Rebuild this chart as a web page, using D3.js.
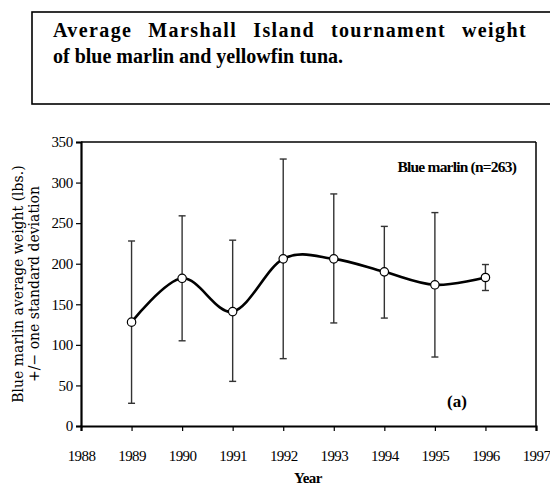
<!DOCTYPE html>
<html>
<head>
<meta charset="utf-8">
<script src="https://cdn.jsdelivr.net/npm/d3@7"></script>
<style>
  body { margin: 0; background: #fff; }
  svg { display: block; }
</style>
</head>
<body>
<svg id="fig" width="550" height="488"></svg>
<script>
// values
var years   = [1989, 1990, 1991, 1992, 1993, 1994, 1995, 1996];
var means   = [128, 182, 141, 206, 206, 190, 174, 183];
var upper   = [228, 259, 229, 329, 286, 246, 263, 199];
var lower   = [ 28, 105,  55,  83, 127, 133,  85, 167];
var yTicks  = [0, 50, 100, 150, 200, 250, 300, 350];
var xTicks  = [1988, 1989, 1990, 1991, 1992, 1993, 1994, 1995, 1996, 1997];
var titleLines = ["Average Marshall Island tournament weight", "of blue marlin and yellowfin tuna."];

var svg = d3.select("#fig");
var fontSerif = "Liberation Serif";

function txt(sel, x, y, size, bold, anchor){
    return sel.append("text")
        .attr("x", x).attr("y", y)
        .style("font-family", fontSerif)
        .style("font-size", size + "px")
        .style("font-weight", bold ? "bold" : "normal")
        .attr("text-anchor", anchor || "start")
        .attr("fill", "#000");
}

// ---- title box
svg.append("rect")
   .attr("x", 32).attr("y", 12).attr("width", 540).attr("height", 92)
   .attr("fill", "none").attr("stroke", "#000").attr("stroke-width", 1.6);

// first line is justified: a bit of letter spacing, the rest goes to the gaps
var t1 = txt(svg, 53, 37, 20, true).style("letter-spacing", "1.4px").text(titleLines[0]);
var nat = t1.node().getComputedTextLength();
var gaps = titleLines[0].split(" ").length - 1;
t1.style("word-spacing", Math.max(0, (527 - 53 - nat) / gaps) + "px");

txt(svg, 53, 63, 20, true).text(titleLines[1]);

// ---- chart
var x = d3.scaleLinear().domain([1988, 1997]).range([81, 536]);
var y = d3.scaleLinear().domain([0, 350]).range([426, 142]);

var g = svg.append("g");

// frame (top & right thinner)
g.append("line").attr("x1", x(1988)).attr("x2", x(1997)).attr("y1", y(350)).attr("y2", y(350))
 .attr("stroke", "#000").attr("stroke-width", 1.5);
g.append("line").attr("x1", x(1997)).attr("x2", x(1997)).attr("y1", y(350)).attr("y2", y(0))
 .attr("stroke", "#000").attr("stroke-width", 1.5);

var yAxis = d3.axisLeft(y).tickValues(yTicks).tickSize(5).tickPadding(3).tickFormat(d3.format("d"));
var xAxis = d3.axisBottom(x).tickValues(xTicks).tickSize(5).tickPadding(19).tickFormat(d3.format("d"));

var ya = g.append("g").attr("transform", "translate(" + x(1988) + ",0)").call(yAxis);
var xa = g.append("g").attr("transform", "translate(0," + y(0) + ")").call(xAxis);

[ya, xa].forEach(function(a){
    a.attr("font-family", null);
    a.select(".domain").attr("stroke", "#000").attr("stroke-width", 2.2);
    a.selectAll(".tick line").attr("stroke", "#000").attr("stroke-width", 1.2);
    a.selectAll(".tick text")
     .style("font-family", fontSerif).style("font-size", "15px").attr("fill", "#000");
});
ya.selectAll(".tick text").style("letter-spacing", "-0.3px");
xa.selectAll(".tick text").style("letter-spacing", "-0.6px");

// error bars
var eb = g.append("g").attr("stroke", "#333").attr("stroke-width", 1.4);
years.forEach(function(yr, i){
    eb.append("line").attr("x1", x(yr)).attr("x2", x(yr)).attr("y1", y(upper[i])).attr("y2", y(lower[i]));
    eb.append("line").attr("x1", x(yr) - 3.5).attr("x2", x(yr) + 3.5).attr("y1", y(upper[i])).attr("y2", y(upper[i]));
    eb.append("line").attr("x1", x(yr) - 3.5).attr("x2", x(yr) + 3.5).attr("y1", y(lower[i])).attr("y2", y(lower[i]));
});

// smoothed mean line
var pts = years.map(function(yr, i){ return [x(yr), y(means[i])]; });
g.append("path")
 .attr("d", d3.line().curve(d3.curveCardinal.tension(0))(pts))
 .attr("fill", "none").attr("stroke", "#000").attr("stroke-width", 2.6);

g.selectAll("circle.m")
 .data(pts).enter().append("circle")
 .attr("cx", function(d){ return d[0]; })
 .attr("cy", function(d){ return d[1]; })
 .attr("r", 4.2)
 .attr("fill", "#fff").attr("stroke", "#000").attr("stroke-width", 1.2);

// legend and panel label
txt(g, 516, 172, 15.5, true, "end").style("letter-spacing", "-0.8px").text("Blue marlin (n=263)");
txt(g, 457, 407, 17, true, "middle").text("(a)");

// axis titles
txt(g, 308, 483, 15, true, "middle").style("letter-spacing", "-0.5px").text("Year");

var yl = g.append("text")
 .attr("transform", "translate(23,284) rotate(-90)")
 .attr("text-anchor", "middle")
 .style("font-family", "DejaVu Serif").style("font-size", "14px");
yl.append("tspan").attr("x", 0).attr("y", 0).text("Blue marlin average weight (lbs.)");
yl.append("tspan").attr("x", 0).attr("y", 16).text("+/\u2212 one standard deviation");
</script>
</body>
</html>
